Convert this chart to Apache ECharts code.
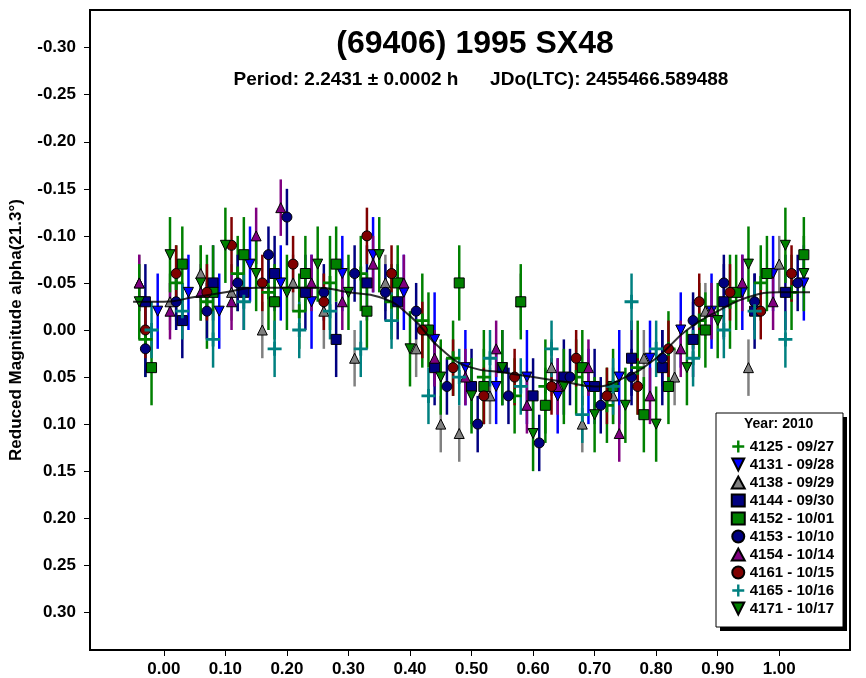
<!DOCTYPE html>
<html>
<head>
<meta charset="utf-8">
<script src="https://cdn.jsdelivr.net/npm/echarts@6/dist/echarts.min.js"></script>
<style>html,body{margin:0;padding:0;background:#fff}#chart{width:866px;height:678px}</style>
</head>
<body>
<div id="chart"></div>
<script>
// [phase, reduced mag, error]
var s4125 = [[-0.03,0.01,0.04],[0.02,-0.05,0.04],[0.07,-0.03,0.05],[0.12,-0.06,0.04],[0.17,-0.04,0.04],[0.22,-0.02,0.04],[0.27,-0.05,0.05],[0.32,-0.06,0.04],[0.37,-0.03,0.04],[0.42,-0.01,0.05],[0.47,0.03,0.04],[0.52,0.05,0.05],[0.57,0.07,0.04],[0.62,0.06,0.05],[0.67,0.05,0.04],[0.72,0.08,0.04],[0.77,0.04,0.05],[0.82,0.02,0.04],[0.87,-0.01,0.04],[0.92,-0.03,0.05],[0.97,-0.05,0.04],[1.02,-0.04,0.04]];
var s4131 = [[-0.01,-0.02,0.04],[0.04,-0.04,0.04],[0.09,-0.02,0.04],[0.14,-0.07,0.04],[0.19,-0.05,0.04],[0.24,-0.03,0.05],[0.29,-0.06,0.04],[0.34,-0.08,0.04],[0.39,-0.04,0.04],[0.44,0.01,0.05],[0.49,0.04,0.04],[0.54,0.06,0.04],[0.59,0.05,0.05],[0.64,0.07,0.04],[0.69,0.06,0.04],[0.74,0.05,0.05],[0.79,0.03,0.04],[0.84,0.00,0.04],[0.89,-0.02,0.04],[0.94,-0.04,0.04],[0.99,-0.06,0.04],[1.04,-0.05,0.04]];
var s4138 = [[-0.04,-0.05,0.03],[0.01,-0.03,0.03],[0.06,-0.06,0.03],[0.11,-0.04,0.03],[0.16,0.00,0.03],[0.21,-0.05,0.03],[0.26,-0.02,0.04],[0.31,0.03,0.03],[0.36,-0.05,0.03],[0.41,0.02,0.03],[0.45,0.10,0.03],[0.48,0.11,0.03],[0.53,0.07,0.03],[0.58,-0.03,0.03],[0.63,0.04,0.03],[0.68,0.10,0.03],[0.73,0.07,0.03],[0.78,0.03,0.03],[0.83,0.05,0.03],[0.88,-0.02,0.03],[0.95,0.04,0.03],[1.00,-0.07,0.03]];
var s4144 = [[-0.03,-0.03,0.04],[0.03,-0.01,0.04],[0.08,-0.05,0.04],[0.13,-0.04,0.04],[0.18,-0.06,0.04],[0.23,-0.04,0.04],[0.28,0.01,0.04],[0.33,-0.05,0.04],[0.38,-0.03,0.04],[0.44,0.04,0.04],[0.50,0.06,0.04],[0.55,0.04,0.04],[0.60,0.07,0.04],[0.65,0.05,0.04],[0.70,0.06,0.04],[0.76,0.03,0.04],[0.81,0.04,0.04],[0.86,0.01,0.04],[0.91,-0.03,0.04],[0.96,-0.02,0.04],[1.01,-0.04,0.04]];
var s4152 = [[-0.02,0.04,0.04],[0.03,-0.07,0.04],[0.08,-0.04,0.05],[0.13,-0.08,0.04],[0.18,-0.03,0.04],[0.23,-0.06,0.04],[0.28,-0.07,0.04],[0.33,-0.02,0.04],[0.38,-0.05,0.04],[0.43,0.00,0.04],[0.48,-0.05,0.04],[0.52,0.06,0.04],[0.58,-0.03,0.04],[0.62,0.08,0.04],[0.68,0.04,0.04],[0.73,0.06,0.04],[0.78,0.09,0.04],[0.82,0.06,0.04],[0.88,0.00,0.04],[0.93,-0.04,0.04],[0.98,-0.06,0.04],[1.04,-0.08,0.04]];
var s4153 = [[-0.03,0.02,0.03],[0.02,-0.03,0.03],[0.07,-0.02,0.03],[0.12,-0.05,0.03],[0.17,-0.08,0.03],[0.20,-0.12,0.03],[0.26,-0.04,0.03],[0.31,-0.06,0.03],[0.36,-0.04,0.03],[0.41,-0.02,0.03],[0.46,0.06,0.03],[0.51,0.10,0.03],[0.56,0.07,0.03],[0.61,0.12,0.03],[0.66,0.05,0.03],[0.71,0.08,0.03],[0.76,0.05,0.03],[0.81,0.03,0.03],[0.86,-0.01,0.03],[0.91,-0.05,0.03],[0.96,-0.03,0.03],[1.03,-0.05,0.03]];
var s4154 = [[-0.04,-0.05,0.03],[0.01,-0.02,0.03],[0.06,-0.04,0.03],[0.11,-0.03,0.03],[0.15,-0.10,0.03],[0.19,-0.13,0.03],[0.24,-0.05,0.03],[0.29,-0.03,0.03],[0.34,-0.07,0.03],[0.39,-0.05,0.03],[0.44,0.03,0.03],[0.49,0.05,0.03],[0.54,0.02,0.03],[0.59,0.08,0.03],[0.64,0.06,0.03],[0.69,0.04,0.03],[0.74,0.11,0.03],[0.79,0.07,0.03],[0.84,0.02,0.03],[0.89,-0.02,0.03],[0.94,-0.05,0.03],[0.99,-0.03,0.03]];
var s4161 = [[-0.03,0.00,0.03],[0.02,-0.06,0.03],[0.07,-0.04,0.03],[0.11,-0.09,0.03],[0.16,-0.05,0.03],[0.21,-0.07,0.03],[0.26,-0.03,0.03],[0.33,-0.10,0.03],[0.37,-0.06,0.03],[0.42,0.00,0.03],[0.47,0.04,0.03],[0.52,0.07,0.03],[0.57,0.05,0.03],[0.63,0.06,0.03],[0.67,0.03,0.03],[0.72,0.07,0.03],[0.77,0.06,0.03],[0.82,0.02,0.03],[0.87,-0.03,0.03],[0.92,-0.04,0.03],[0.97,-0.02,0.03],[1.02,-0.06,0.03]];
var s4165 = [[-0.02,0.00,0.03],[0.03,-0.02,0.03],[0.08,0.01,0.03],[0.13,-0.03,0.03],[0.18,0.02,0.03],[0.22,0.00,0.03],[0.27,-0.02,0.03],[0.32,0.02,0.03],[0.37,-0.01,0.03],[0.43,0.07,0.03],[0.48,0.05,0.03],[0.53,0.03,0.03],[0.58,0.06,0.03],[0.63,0.02,0.03],[0.68,0.09,0.03],[0.73,0.06,0.03],[0.76,-0.03,0.03],[0.80,0.02,0.03],[0.86,0.03,0.03],[0.91,0.00,0.03],[0.96,-0.02,0.03],[1.01,0.01,0.03]];
var s4171 = [[-0.04,-0.03,0.04],[0.01,-0.08,0.04],[0.06,-0.05,0.04],[0.10,-0.09,0.04],[0.15,-0.06,0.04],[0.20,-0.04,0.04],[0.25,-0.07,0.04],[0.30,-0.04,0.04],[0.35,-0.08,0.04],[0.40,0.02,0.04],[0.45,0.05,0.04],[0.50,0.07,0.04],[0.55,0.04,0.04],[0.60,0.11,0.04],[0.65,0.06,0.04],[0.70,0.09,0.04],[0.75,0.08,0.04],[0.80,0.10,0.04],[0.85,0.04,0.04],[0.90,-0.01,0.04],[0.95,-0.07,0.04],[1.01,-0.09,0.04],[1.04,-0.06,0.04]];
var fitX = [-0.05,0.00,0.05,0.10,0.15,0.20,0.25,0.30,0.35,0.40,0.45,0.50,0.55,0.60,0.65,0.70,0.75,0.80,0.85,0.90,0.95,1.00,1.05];
var fitY = [-0.03,-0.03,-0.035,-0.04,-0.045,-0.045,-0.045,-0.04,-0.035,-0.015,0.02,0.04,0.045,0.05,0.055,0.06,0.05,0.03,0.00,-0.02,-0.035,-0.04,-0.04];

var names = ['4125 - 09/27','4131 - 09/28','4138 - 09/29','4144 - 09/30','4152 - 10/01','4153 - 10/10','4154 - 10/14','4161 - 10/15','4165 - 10/16','4171 - 10/17'];
var sets = [s4125,s4131,s4138,s4144,s4152,s4153,s4154,s4161,s4165,s4171];
var colors = ['#008000','#0000ff','#808080','#000080','#008000','#000080','#800080','#800000','#008080','#008000'];
var plus = 'path://M4,0h2v4h4v2h-4v4h-2v-4h-4v-2h4z';
var down = 'path://M0,0L10,0L5,10Z';
var symbols = [plus,down,'triangle','rect','rect','circle','triangle','circle',plus,down];

var chart = echarts.init(document.getElementById('chart'));
var series = [];
for (var i = 0; i < sets.length; i++) {
    (function(i){
        series.push({
            type: 'custom', silent: true, z: 2,
            data: sets[i],
            renderItem: function(params, api) {
                var a = api.coord([api.value(0), api.value(1) - api.value(2)]);
                var b = api.coord([api.value(0), api.value(1) + api.value(2)]);
                return {type: 'line', shape: {x1: a[0], y1: a[1], x2: b[0], y2: b[1]},
                        style: {stroke: colors[i], lineWidth: 2.5}};
            }
        });
        var isPlus = symbols[i] === plus;
        series.push({
            name: names[i], type: 'scatter', z: 3,
            symbol: symbols[i], symbolSize: isPlus ? 14 : 10,
            itemStyle: {color: colors[i], borderColor: isPlus ? colors[i] : '#000', borderWidth: isPlus ? 0 : 1, opacity: 1},
            data: sets[i].map(function(d){ return [d[0], d[1]]; })
        });
    })(i);
}
series.push({
    type: 'line', z: 4, symbol: 'none', smooth: true, silent: true,
    lineStyle: {color: '#000', width: 2, opacity: 0.8},
    data: fitX.map(function(x, k){ return [x, fitY[k]]; })
});

chart.setOption({
    animation: false,
    grid: {left: 90, right: 16, top: 10, bottom: 26},
    title: [{
        text: '(69406) 1995 SX48', left: 470, top: 23, textAlign: 'center',
        textStyle: {fontFamily: 'Liberation Sans', fontSize: 32, fontWeight: 'bold', color: '#000'}
    }, {
        text: 'Period: 2.2431 ± 0.0002 h      JDo(LTC): 2455466.589488', left: 476, top: 65, textAlign: 'center',
        textStyle: {fontFamily: 'Liberation Sans', fontSize: 19, fontWeight: 'bold', color: '#000'}
    }],
    legend: {
        orient: 'vertical', right: 28, top: 437, itemGap: 3, itemWidth: 13, itemHeight: 12,
        data: names, padding: [2, 4, 4, 4],
        textStyle: {fontFamily: 'Liberation Sans', fontSize: 15, fontWeight: 'bold', color: '#000'}
    },
    graphic: [{
        type: 'rect', z: 0, shape: {x: 720, y: 417, width: 127, height: 214}, style: {fill: '#000'}
    }, {
        type: 'rect', z: 1, shape: {x: 716, y: 413, width: 127, height: 214}, style: {fill: '#fff', stroke: '#000', lineWidth: 1}
    }, {
        type: 'text', z: 5, left: 744, top: 417,
        style: {text: 'Year: 2010', font: 'bold 14px Liberation Sans', fill: '#000'}
    }],
    xAxis: {
        type: 'value', min: -0.12, max: 1.115,
        axisLine: {onZero: false, lineStyle: {color: '#000', width: 2}},
        axisTick: {customValues: [0,0.1,0.2,0.3,0.4,0.5,0.6,0.7,0.8,0.9,1.0], length: 6, lineStyle: {color: '#000'}},
        axisLabel: {customValues: [0,0.1,0.2,0.3,0.4,0.5,0.6,0.7,0.8,0.9,1.0], formatter: function(v){ return v.toFixed(2); },
            fontFamily: 'Liberation Sans', fontSize: 17, fontWeight: 'bold', color: '#000', margin: 11},
        splitLine: {show: false}
    },
    yAxis: {
        type: 'value', inverse: true, min: -0.34, max: 0.34,
        name: 'Reduced Magnitude alpha(21.3°)', nameLocation: 'middle', nameGap: 65,
        nameTextStyle: {fontFamily: 'Liberation Sans', fontSize: 17, fontWeight: 'bold', color: '#000'},
        axisLine: {onZero: false, lineStyle: {color: '#000', width: 2}},
        axisTick: {customValues: [-0.3,-0.25,-0.2,-0.15,-0.1,-0.05,0,0.05,0.1,0.15,0.2,0.25,0.3], length: 6, lineStyle: {color: '#000'}},
        axisLabel: {customValues: [-0.3,-0.25,-0.2,-0.15,-0.1,-0.05,0,0.05,0.1,0.15,0.2,0.25,0.3], formatter: function(v){ return v.toFixed(2); },
            fontFamily: 'Liberation Sans', fontSize: 17, fontWeight: 'bold', color: '#000', margin: 14},
        splitLine: {show: false}
    },
    series: series.concat([{
        type: 'line', silent: true, symbol: 'none', lineStyle: {width: 0}, data: [],
        markArea: {silent: true, itemStyle: {color: 'transparent', borderColor: '#000', borderWidth: 2},
            data: [[{coord: [-0.12, -0.34]}, {coord: [1.115, 0.34]}]]}
    }])
});
</script>
</body>
</html>
